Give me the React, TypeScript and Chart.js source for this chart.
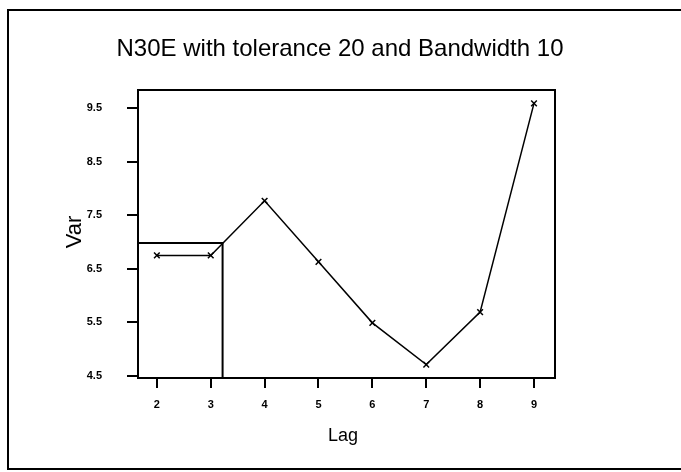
import React, { useEffect, useRef } from "react";
import { Chart, registerables } from "chart.js";

Chart.register(...registerables);

// ---- data ----
const lags = [2, 3, 4, 5, 6, 7, 8, 9];
const variogram = [6.75, 6.75, 7.77, 6.63, 5.49, 4.71, 5.69, 9.59];
const xTicks = [2, 3, 4, 5, 6, 7, 8, 9];
const yTicks = [4.5, 5.5, 6.5, 7.5, 8.5, 9.5];
const boxRange = 3.22;
const boxSill = 6.98;
const xMin = 1.65;
const xMax = 9.39;
const yMin = 4.46;
const yMax = 9.84;
const titleText = "N30E with tolerance 20 and Bandwidth 10";
const xLabel = "Lag";
const yLabel = "Var";

const FONT = "'Liberation Sans', Arial, sans-serif";

const framePlugin = {
  id: "framePlugin",
  beforeDraw(chart: any) {
    const ctx = chart.ctx;
    ctx.save();
    ctx.fillStyle = "#fff";
    ctx.fillRect(0, 0, chart.width, chart.height);
    ctx.strokeStyle = "#000";
    ctx.lineWidth = 2;
    ctx.strokeRect(8, 10, 720, 459);
    ctx.restore();
  },
  afterDraw(chart: any) {
    const ctx = chart.ctx;
    const a = chart.chartArea;
    ctx.save();
    ctx.strokeStyle = "#000";
    ctx.lineWidth = 2;
    ctx.strokeRect(a.left, a.top, a.right - a.left, a.bottom - a.top);
    ctx.fillStyle = "#000";
    ctx.textAlign = "center";
    ctx.textBaseline = "middle";
    ctx.font = `24px ${FONT}`;
    ctx.fillText(titleText, 340, 49);
    ctx.font = `18px ${FONT}`;
    ctx.fillText(xLabel, 343, 436);
    ctx.translate(75, 232);
    ctx.rotate(-Math.PI / 2);
    ctx.font = `22px ${FONT}`;
    ctx.fillText(yLabel, 0, 0);
    ctx.restore();
  },
};

export default function App() {
  const ref = useRef<HTMLCanvasElement>(null);
  useEffect(() => {
    if (!ref.current) return;
    const chart = new Chart(ref.current, {
      type: "line",
      data: {
        datasets: [
          {
            label: "box",
            data: [
              { x: xMin, y: boxSill },
              { x: boxRange, y: boxSill },
              { x: boxRange, y: yMin },
            ],
            borderColor: "#000",
            borderWidth: 2,
            pointRadius: 0,
            fill: false,
          },
          {
            label: "variogram",
            data: lags.map((x, i) => ({ x, y: variogram[i] })),
            borderColor: "#000",
            borderWidth: 1.5,
            pointStyle: "crossRot",
            pointRadius: 4,
            pointBorderColor: "#000",
            pointBorderWidth: 1.5,
            fill: false,
          },
        ],
      },
      options: {
        animation: false,
        responsive: false,
        layout: { padding: { top: 90, right: 126, bottom: 0, left: 0 } },
        plugins: {
          legend: { display: false },
          title: { display: false },
          tooltip: { enabled: false },
        },
        scales: {
          x: {
            type: "linear",
            min: xMin,
            max: xMax,
            afterBuildTicks: (s: any) => {
              s.ticks = xTicks.map((v) => ({ value: v }));
            },
            afterFit: (s: any) => {
              s.height = 94;
            },
            grid: {
              display: true,
              drawOnChartArea: false,
              drawTicks: true,
              tickLength: 10,
              color: "#000",
              lineWidth: 2,
            },
            border: { display: true, color: "#000", width: 2 },
            ticks: {
              color: "#000",
              font: { size: 11, weight: "bold", family: FONT },
              padding: 10,
              maxRotation: 0,
              autoSkip: false,
              callback: (v: any) => String(v),
            },
          },
          y: {
            type: "linear",
            min: yMin,
            max: yMax,
            afterBuildTicks: (s: any) => {
              s.ticks = yTicks.map((v) => ({ value: v }));
            },
            afterFit: (s: any) => {
              s.width = 138;
            },
            grid: {
              display: true,
              drawOnChartArea: false,
              drawTicks: true,
              tickLength: 11,
              color: "#000",
              lineWidth: 2,
            },
            border: { display: true, color: "#000", width: 2 },
            ticks: {
              color: "#000",
              font: { size: 11, weight: "bold", family: FONT },
              padding: 25,
              autoSkip: false,
              callback: (v: any) => Number(v).toFixed(1),
            },
          },
        },
      },
      plugins: [framePlugin],
    });
    return () => chart.destroy();
  }, []);
  return (
    <div style={{ position: "fixed", left: 0, top: 0, width: 681, height: 472, background: "#fff" }}>
      <canvas ref={ref} width={681} height={472} style={{ display: "block" }} />
    </div>
  );
}
